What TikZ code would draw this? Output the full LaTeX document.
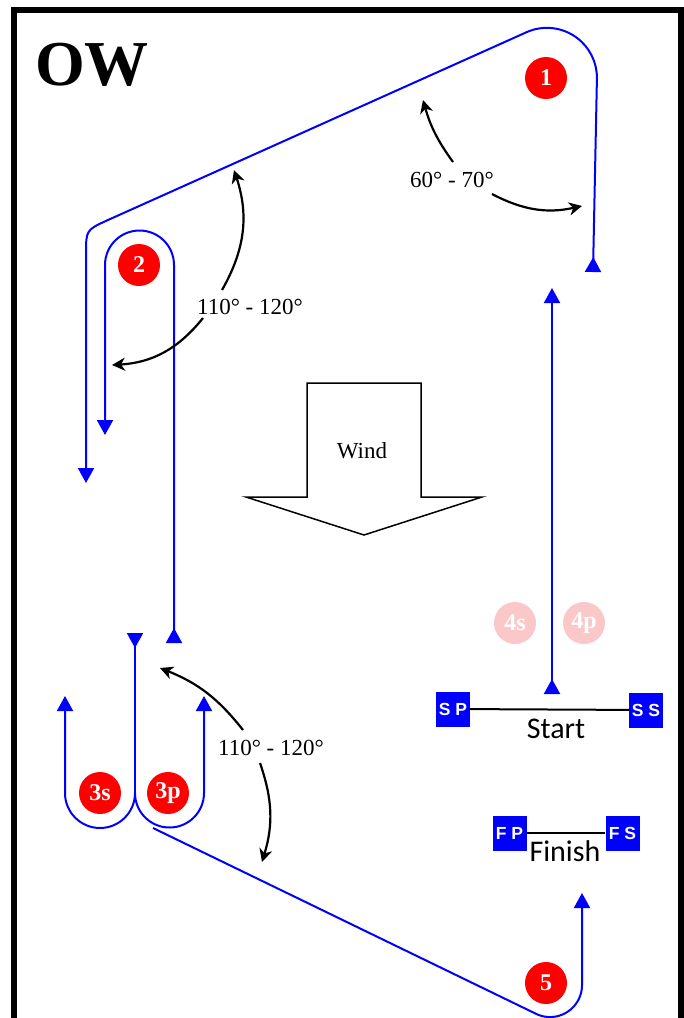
\documentclass[tikz,border=0pt]{standalone}
\usepackage{fontspec}
\setmainfont{Liberation Serif}
\newfontfamily\gatefont{Liberation Sans}
\newfontfamily\linefont{Carlito}
\usetikzlibrary{arrows.meta,positioning}
\definecolor{courseblue}{RGB}{0,0,255}
\definecolor{buoyred}{RGB}{255,0,0}
\definecolor{buoypale}{RGB}{250,200,200}

\begin{document}
\begin{tikzpicture}[x=1pt,y=-1pt,
    leg/.style={courseblue,line width=2pt},
    tip/.tip={Triangle[width=16pt,length=15pt]},
    backtip/.tip={Triangle[reversed,width=16pt,length=15pt]},
    buoy/.style={circle,fill=buoyred,text=white,inner sep=0pt,minimum size=42pt,
      font=\fontsize{24}{24}\selectfont\bfseries},
    buoyfaint/.style={buoy,fill=buoypale},
    gatebox/.style={fill=courseblue,text=white,inner sep=0pt,minimum width=34pt,
      minimum height=35pt,font=\gatefont\fontsize{17.5}{17.5}\selectfont\bfseries},
    gateline/.style={black,line width=2pt},
    bendarrow/.style={black,line width=2.2pt,-{Stealth[length=13pt,width=13pt,inset=4pt]}},
    anglelabel/.style={font=\fontsize{23}{23}\selectfont}]
  \useasboundingbox (0,0) rectangle (684,1018);
  \clip (0,0) rectangle (684,1018);
  \draw[line width=6pt] (13.5,10) rectangle (681,1040);
  \node[anchor=base west,inner sep=0pt,font=\fontsize{64}{64}\selectfont\bfseries] (title) at (35,85) {OW};

  % marks
  \node[buoy] (b1) at (546,78) {1};
  \node[buoy] (b2) at (139,265) {2};
  \node[buoy] (b3s) at (100,793) {3s};
  \node[buoy] (b3p) at (168,793) {3p};
  \node[buoyfaint] (b4s) at (515,623) {4s};
  \node[buoyfaint] (b4p) at (584,623) {4p};
  \node[buoy] (b5) at (546,983) {5};

  % course legs
  \draw[leg,backtip-tip] (552,694) -- (552,288);
  \draw[leg,tip-backtip] (86,483) -- (86,254) .. controls (86,230) .. (108,220) -- (527,32)
    arc[start angle=246.5,end angle=360,radius=50] -- (593,272);
  \draw[leg,tip-backtip] (105,435) -- (105,265) arc[start angle=180,end angle=360,radius=34.5] -- (174,643);
  \draw[leg,tip-tip] (65,696) -- (65,793) arc[start angle=180,end angle=0,radius=35]
    arc[start angle=180,end angle=0,radius=34.5] -- (204,696);
  \draw[leg,backtip-] (135,633) -- (135,793);
  \draw[leg,-tip] (153,828) -- (535.8,1013.7) arc[start angle=116.4,end angle=0,radius=32] -- (582,893);

  % wind
  \draw[line width=1.5pt] (307,383) -- (421,383) -- (421,497) -- (482,497) -- (364,535)
    -- (246,497) -- (307,497) -- cycle;
  \node[anglelabel] (wind) at (362,451) {Wind};

  % start and finish
  \node[gatebox] (sp) at (453,709) {S P};
  \node[gatebox] (ss) at (646,710) {S S};
  \draw[gateline] (sp) -- (ss);
  \node[anchor=base,inner sep=0pt,font=\linefont\fontsize{30}{30}\selectfont] (startlabel) at (556,738) {Start};
  \node[gatebox] (fp) at (509.5,833) {F P};
  \node[gatebox] (fs) at (622.5,833) {F S};
  \draw[gateline] (fp) -- (fs);
  \node[anchor=base,inner sep=0pt,font=\linefont\fontsize{30}{30}\selectfont] (finishlabel) at (565,861) {Finish};

  % angles
  \node[anglelabel] (ang1) at (452,180) {60° - 70°};
  \draw[bendarrow] (453,162) to[bend left=10] (423,100);
  \draw[bendarrow] (492,194) to[bend right=20] (582,206);
  \node[anglelabel] (ang2) at (250,307) {110° - 120°};
  \draw[bendarrow] (222,290) to[bend right=24] (234,170);
  \draw[bendarrow] (203,318) to[bend left=24] (112,365);
  \node[anglelabel] (ang3) at (271,748) {110° - 120°};
  \draw[bendarrow] (243,730) to[bend right=15] (160,668);
  \draw[bendarrow] (260,763) to[bend left=18] (262,862);
\end{tikzpicture}
\end{document}
